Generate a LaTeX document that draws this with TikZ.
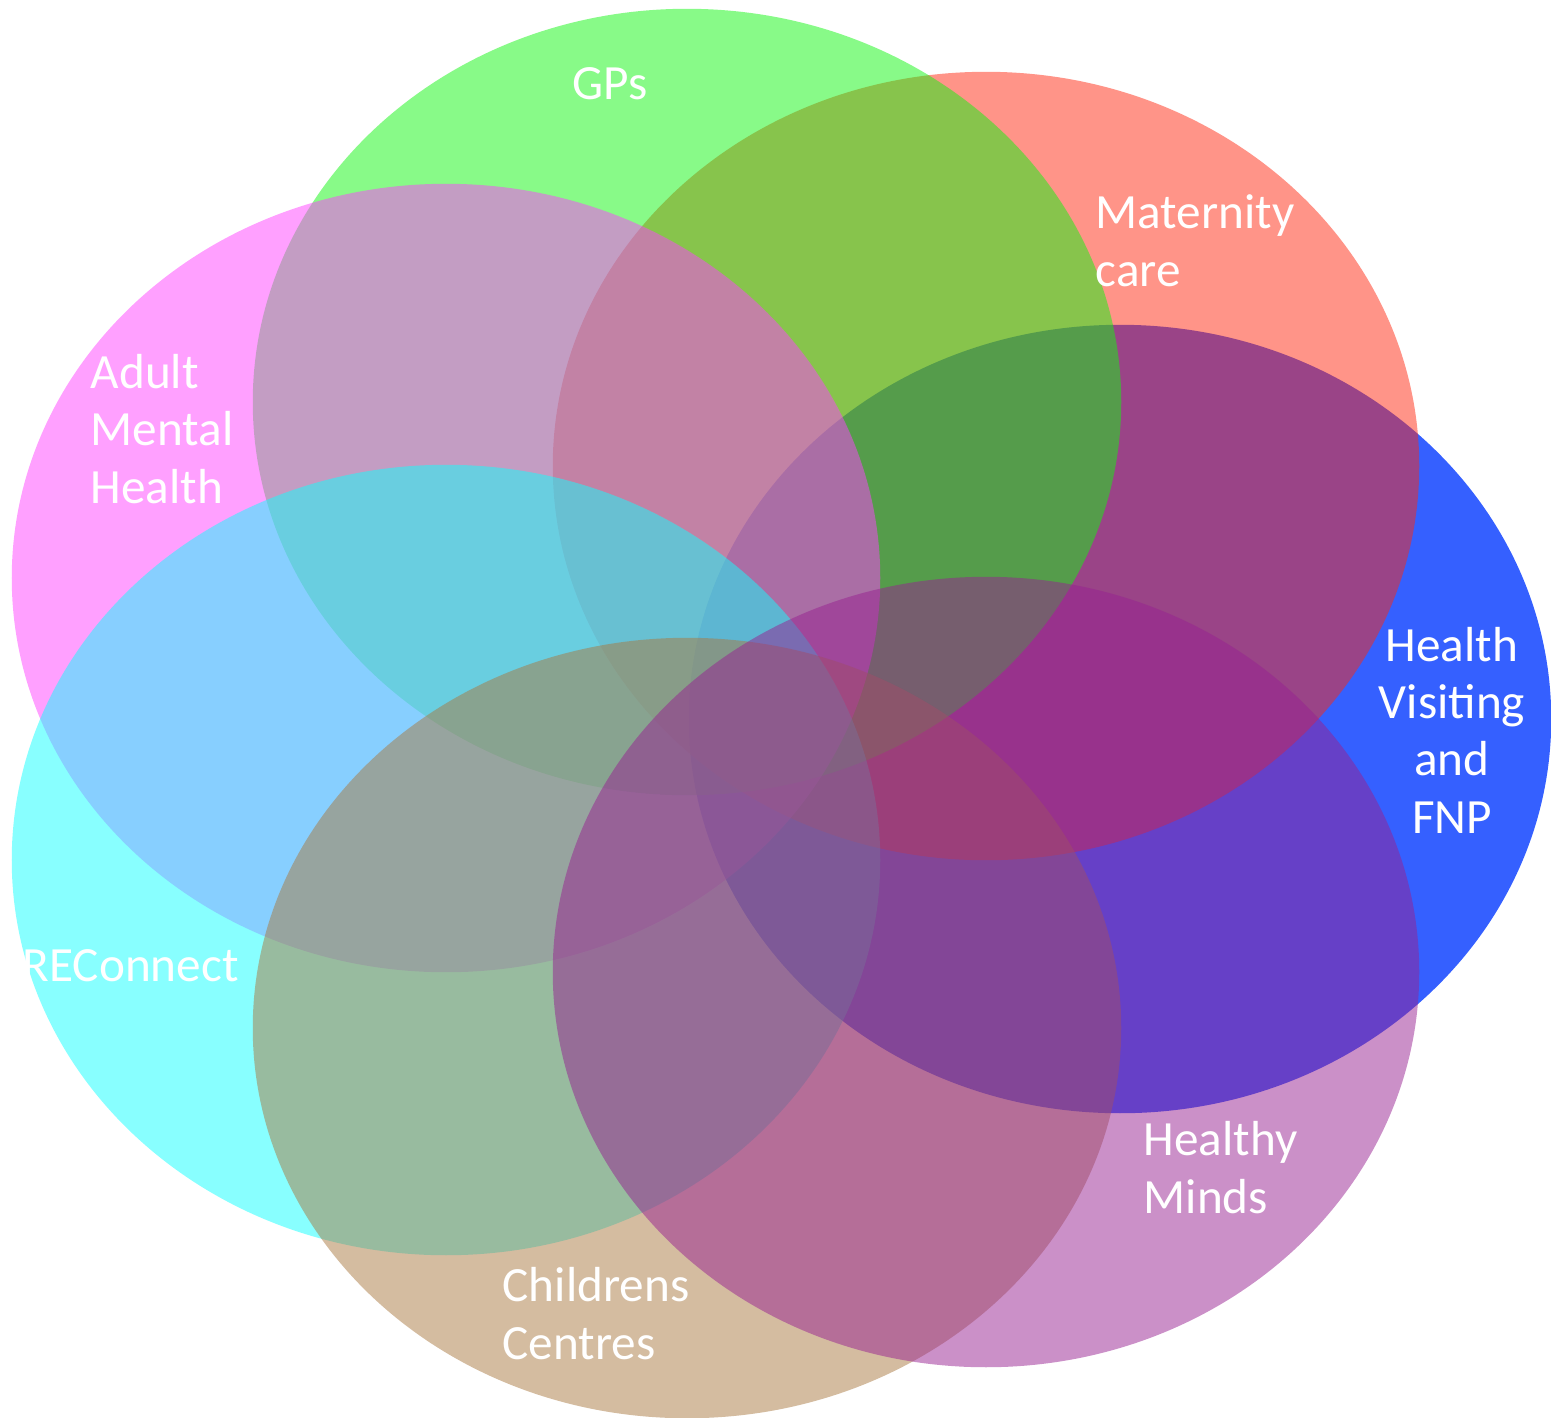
\documentclass[tikz,border=0pt]{standalone}
\usepackage{fontspec}
\setmainfont{Carlito}
\usepackage{xcolor}
\definecolor{colGP}{RGB}{17,245,17}
\definecolor{colMat}{RGB}{255,41,17}
\definecolor{colAMH}{RGB}{255,65,255}
\definecolor{colHV}{RGB}{53,96,255}
\definecolor{colREC}{RGB}{17,255,255}
\definecolor{colCC}{RGB}{169,121,65}
\definecolor{colHM}{RGB}{151,33,145}
\tikzset{
  blob/.style={fill=#1, fill opacity=.5},
  lbl/.style={text=white, font=\fontsize{14}{16.3}\selectfont, inner sep=0pt, align=left},
}

\begin{document}
\begin{tikzpicture}[x=0.01cm, y=-0.01cm]
    % cadre
    \useasboundingbox (0,0) rectangle (1551,1417);
    % ellipses, du fond vers le dessus
    \fill[colHV] (1120,719) ellipse[x radius=4.31cm, y radius=3.94cm];
    \fill[blob=colMat] (986,466) ellipse[x radius=4.33cm, y radius=3.94cm];
    \fill[blob=colGP] (687,402) ellipse[x radius=4.34cm, y radius=3.93cm];
    \fill[blob=colAMH] (446,578) ellipse[x radius=4.34cm, y radius=3.94cm];
    \fill[blob=colREC] (446,860) ellipse[x radius=4.34cm, y radius=3.95cm];
    \fill[blob=colCC] (687,1028) ellipse[x radius=4.34cm, y radius=3.90cm];
    \fill[blob=colHM] (986,972) ellipse[x radius=4.33cm, y radius=3.95cm];
    % textes (base = ligne du bas)
    \node[lbl, anchor=base west] (gps) at (572,99) {GPs};
    \node[lbl, anchor=base west] (mat) at (1095,286) {Maternity\\care};
    \node[lbl, anchor=base west] (amh) at (90,503) {Adult\\Mental\\Health};
    \node[lbl, anchor=base, align=center] (hv) at (1452,833) {Health\\Visiting\\and\\FNP};
    \node[lbl, anchor=base west] (rec) at (22,981) {REConnect};
    \node[lbl, anchor=base west] (hm) at (1143,1213) {Healthy\\Minds};
    \node[lbl, anchor=base west] (cc) at (502,1359) {Childrens\\Centres};
\end{tikzpicture}
\end{document}
